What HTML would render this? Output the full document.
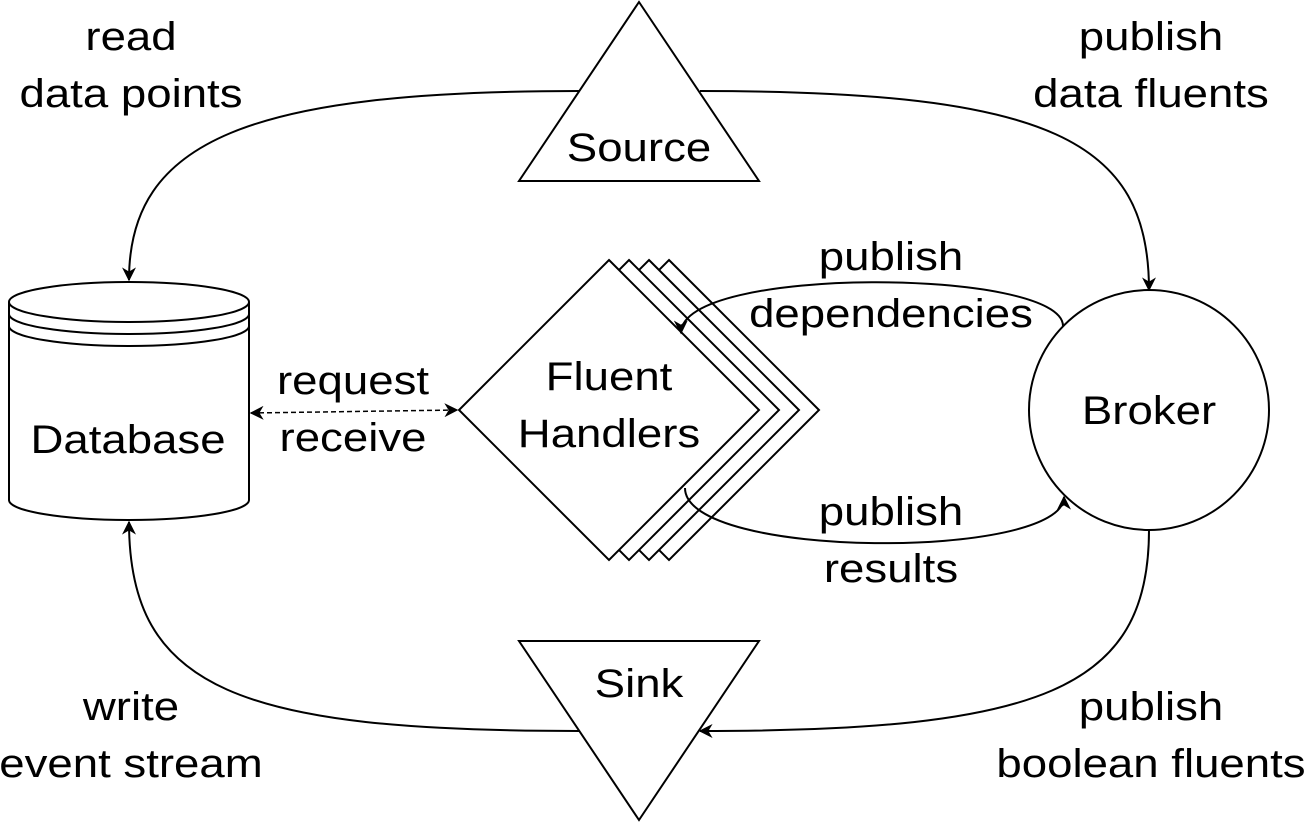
<!DOCTYPE html>
<html><head><meta charset="utf-8"><style>html,body{margin:0;padding:0;background:#fff}</style></head>
<body>
<svg width="1306" height="822" viewBox="0 0 1306 822" xmlns="http://www.w3.org/2000/svg">
<defs>
<marker id="b" viewBox="0 0 10 10" refX="9" refY="5" markerWidth="14" markerHeight="14" orient="auto-start-reverse" markerUnits="userSpaceOnUse"><path d="M0,0 L10,5 L0,10 L3,5 z" fill="#000"/></marker>
</defs>
<g fill="none" stroke="#000" stroke-width="2">
<path d="M669,260 L819,410 L669,560 L519,410 Z" fill="#fff"/>
<path d="M649,260 L799,410 L649,560 L499,410 Z" fill="#fff"/>
<path d="M629,260 L779,410 L629,560 L479,410 Z" fill="#fff"/>
<path d="M609,260 L759,410 L609,560 L459,410 Z" fill="#fff"/>
<path d="M639,2 L759,181 L519,181 Z" fill="#fff"/>
<path d="M519,641 L759,641 L639,820 Z" fill="#fff"/>
<path d="M9,302 L9,500 A120,20 0 0 0 249,500 L249,302" fill="#fff"/>
<ellipse cx="129" cy="302" rx="120" ry="20" fill="#fff"/>
<path d="M9,314 A120,20 0 0 0 249,314"/>
<path d="M9,326 A120,20 0 0 0 249,326"/>
<circle cx="1149" cy="410" r="120" fill="#fff"/>
<path d="M579,91 C250,91 129,140 129,280" marker-end="url(#b)"/>
<path d="M700,91 C1050,91 1149,140 1149,290" marker-end="url(#b)"/>
<path d="M1149,530 C1149,690 1040,731 700,731" marker-end="url(#b)"/>
<path d="M579,731 C240,731 129,690 129,522" marker-end="url(#b)"/>
<path d="M1063,326 C1063,268 680,265 681,333" marker-end="url(#b)"/>
<path d="M685,488 C685,560 1064,560 1064,497" marker-end="url(#b)"/>
<path d="M251,413 L457,410" stroke-dasharray="5,3" stroke-width="1.5" marker-start="url(#b)" marker-end="url(#b)"/>
</g>
<g font-family="'Liberation Sans', sans-serif" font-size="40" text-anchor="middle" fill="#000">
<text transform="translate(639,161) scale(1.14,1)">Source</text>
<text transform="translate(639,697) scale(1.14,1)">Sink</text>
<text transform="translate(128,453) scale(1.14,1)">Database</text>
<text transform="translate(1149,424) scale(1.14,1)">Broker</text>
<text transform="translate(609,390) scale(1.14,1)">Fluent</text>
<text transform="translate(609,447) scale(1.14,1)">Handlers</text>
<text transform="translate(131,50) scale(1.14,1)">read</text>
<text transform="translate(131,107) scale(1.14,1)">data points</text>
<text transform="translate(1151,50) scale(1.14,1)">publish</text>
<text transform="translate(1151,107) scale(1.14,1)">data fluents</text>
<text transform="translate(891,270) scale(1.14,1)">publish</text>
<text transform="translate(891,327) scale(1.14,1)">dependencies</text>
<text transform="translate(353,394) scale(1.14,1)">request</text>
<text transform="translate(353,451) scale(1.14,1)">receive</text>
<text transform="translate(891,525) scale(1.14,1)">publish</text>
<text transform="translate(891,582) scale(1.14,1)">results</text>
<text transform="translate(131,720) scale(1.14,1)">write</text>
<text transform="translate(131,777) scale(1.14,1)">event stream</text>
<text transform="translate(1151,720) scale(1.14,1)">publish</text>
<text transform="translate(1151,777) scale(1.14,1)">boolean fluents</text>
</g>
</svg>
</body></html>
